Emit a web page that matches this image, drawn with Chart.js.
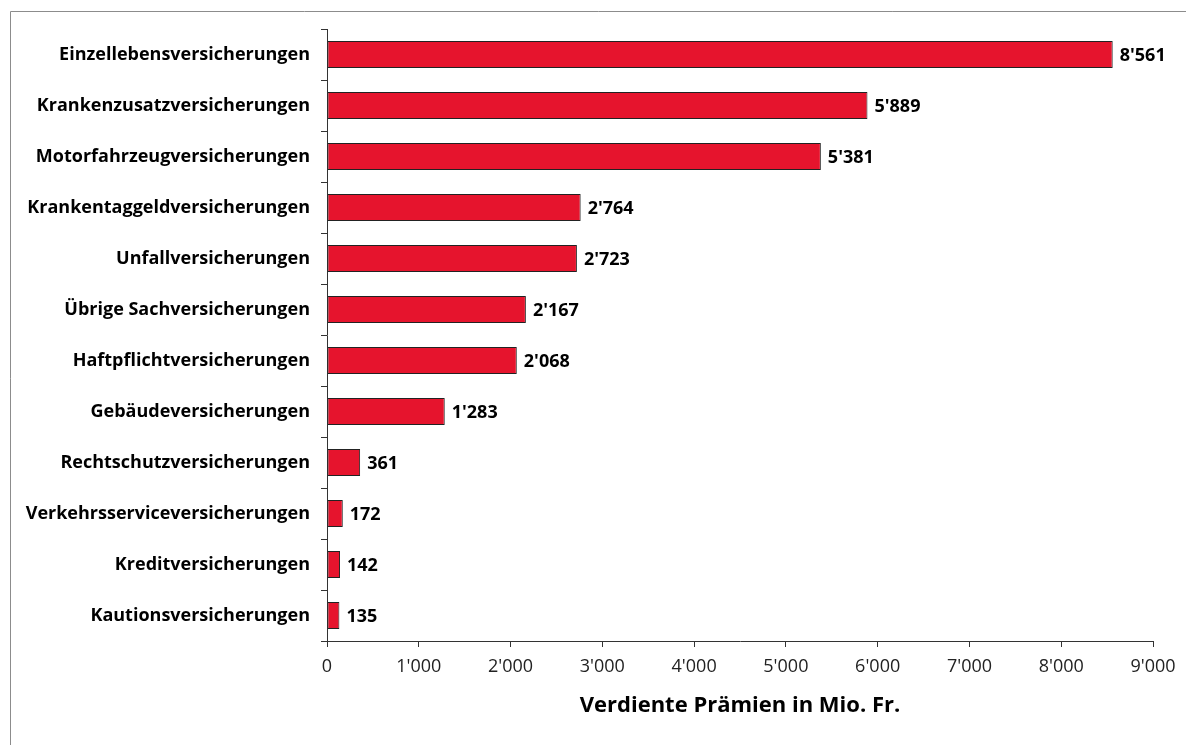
<!DOCTYPE html>
<html lang="de">
<head>
<meta charset="UTF-8" />
<title>Verdiente Prämien</title>
<script src="https://cdn.jsdelivr.net/npm/chart.js"></script>
<style>
  html, body { margin: 0; padding: 0; background: #fff; }
  #wrap { width: 1186px; height: 745px; position: relative; }
</style>
</head>
<body>
<div id="wrap"><canvas id="chart"></canvas></div>
<script>
const categories = [
  'Einzellebensversicherungen',
  'Krankenzusatzversicherungen',
  'Motorfahrzeugversicherungen',
  'Krankentaggeldversicherungen',
  'Unfallversicherungen',
  'Übrige Sachversicherungen',
  'Haftpflichtversicherungen',
  'Gebäudeversicherungen',
  'Rechtschutzversicherungen',
  'Verkehrsserviceversicherungen',
  'Kreditversicherungen',
  'Kautionsversicherungen'
];
const premiums = [8561, 5889, 5381, 2764, 2723, 2167, 2068, 1283, 361, 172, 142, 135];
const xTicks = [0, 1000, 2000, 3000, 4000, 5000, 6000, 7000, 8000, 9000];
const axisTitle = 'Verdiente Prämien in Mio. Fr.';

const FONT = "'Open Sans', 'DejaVu Sans', sans-serif";

function fmt(v) {
  return String(v).replace(/\B(?=(\d{3})+(?!\d))/g, "'");
}

// grey frame around the figure (left and top edges visible)
const framePlugin = {
  id: 'frame',
  beforeDraw(chart) {
    const ctx = chart.ctx;
    ctx.save();
    ctx.strokeStyle = '#8c8c8c';
    ctx.lineWidth = 1;
    ctx.beginPath();
    ctx.moveTo(10.5, 745);
    ctx.lineTo(10.5, 11.5);
    ctx.lineTo(1186, 11.5);
    ctx.stroke();
    ctx.restore();
  }
};

// value labels at the end of each bar
const valueLabels = {
  id: 'valueLabels',
  afterDatasetsDraw(chart) {
    const ctx = chart.ctx;
    const meta = chart.getDatasetMeta(0);
    ctx.save();
    ctx.font = "bold 18px " + FONT;
    ctx.fillStyle = '#000';
    ctx.textAlign = 'left';
    ctx.textBaseline = 'middle';
    meta.data.forEach((bar, i) => {
      ctx.fillText(fmt(premiums[i]), bar.x + 7, bar.y + 1);
    });
    ctx.restore();
  }
};

new Chart(document.getElementById('chart'), {
  type: 'bar',
  data: {
    labels: categories,
    datasets: [{
      data: premiums,
      backgroundColor: '#E6142D',
      borderColor: '#222',
      borderWidth: 1,
      borderSkipped: false,
      barPercentage: 1,
      categoryPercentage: 0.53
    }]
  },
  options: {
    indexAxis: 'y',
    responsive: true,
    maintainAspectRatio: false,
    animation: false,
    layout: { padding: { top: 29, right: 33, left: 0, bottom: 0 } },
    plugins: {
      legend: { display: false },
      tooltip: { enabled: false }
    },
    scales: {
      x: {
        min: 0,
        max: 9000,
        afterBuildTicks(scale) {
          scale.ticks = xTicks.map(v => ({ value: v }));
        },
        afterFit(scale) { scale.height = 104; },
        grid: {
          drawOnChartArea: false,
          drawTicks: true,
          tickLength: 6,
          color: '#333'
        },
        border: { display: true, color: '#333', width: 1 },
        ticks: {
          padding: 9,
          color: '#222',
          font: { family: FONT, size: 18 },
          callback: v => fmt(v)
        },
        title: {
          display: true,
          text: axisTitle,
          color: '#000',
          font: { family: FONT, size: 22, weight: 'bold' },
          padding: { top: 0, bottom: 26 }
        }
      },
      y: {
        afterFit(scale) { scale.width = 327; },
        grid: {
          drawOnChartArea: false,
          drawTicks: true,
          tickLength: 6,
          offset: true,
          color: '#333'
        },
        border: { display: true, color: '#333', width: 1 },
        ticks: {
          padding: 11,
          color: '#000',
          font: { family: FONT, size: 18, weight: 'bold' }
        }
      }
    }
  },
  plugins: [framePlugin, valueLabels]
});
</script>
</body>
</html>
